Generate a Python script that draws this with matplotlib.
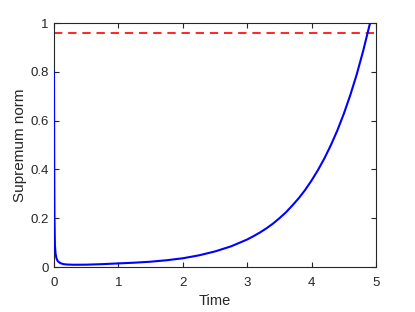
import matplotlib
matplotlib.use("Agg")
import matplotlib.pyplot as plt

# sampled from the reference curve
tiempo = [0, 0.004, 0.008, 0.015, 0.025, 0.04, 0.06, 0.1, 0.15, 0.2, 0.3, 0.5,
          0.75, 1.0, 1.25, 1.5, 1.75, 2.0, 2.25, 2.5, 2.75,
          3.0, 3.1, 3.2, 3.3, 3.4, 3.5, 3.6, 3.7, 3.8, 3.9,
          4.0, 4.1, 4.2, 4.3, 4.4, 4.5, 4.6, 4.7, 4.8, 4.9, 4.91]
norma = [0.8, 0.4, 0.2, 0.09, 0.055, 0.035, 0.024, 0.016, 0.012, 0.0105, 0.0095, 0.0098,
         0.012, 0.015, 0.018, 0.022, 0.028, 0.036, 0.048, 0.064, 0.085,
         0.113, 0.127, 0.142, 0.159, 0.178, 0.200, 0.224, 0.252, 0.282, 0.316,
         0.355, 0.398, 0.446, 0.500, 0.560, 0.628, 0.704, 0.789, 0.885, 0.992, 1.0]
umbral = 0.958

xticks = [0, 1, 2, 3, 4, 5]
yticks = [0, 0.2, 0.4, 0.6, 0.8, 1]

plt.rcParams['font.family'] = ['Liberation Sans', 'DejaVu Sans']
gris = (0.15, 0.15, 0.15)

fig = plt.figure(figsize=(4.15, 3.12), dpi=100)
ax = fig.add_axes([0.130, 0.144, 0.776, 0.782])

ax.plot(tiempo, norma, color='blue', linewidth=1.5, zorder=3)
ax.axhline(umbral, color='red', linestyle=(0, (5, 3.5)), linewidth=1.2, zorder=2)

ax.set_xlim(0, 5)
ax.set_ylim(0, 1)
ax.set_xticks(xticks)
ax.set_yticks(yticks)
ax.set_xticklabels([str(v) for v in xticks])
ax.set_yticklabels(['0', '0.2', '0.4', '0.6', '0.8', '1'])
ax.tick_params(direction='in', length=3.5, width=0.8, top=True, right=True,
               labelsize=9.5, colors=gris, pad=4)
ax.tick_params(axis='x', pad=7)
for s in ax.spines.values():
    s.set_color(gris)
    s.set_linewidth(0.8)

ax.set_xlabel('Time', fontsize=10.5, color=gris, labelpad=4)
ax.set_ylabel('Supremum norm', fontsize=11, color=gris, labelpad=2)

fig.savefig('out.png', dpi=100)
